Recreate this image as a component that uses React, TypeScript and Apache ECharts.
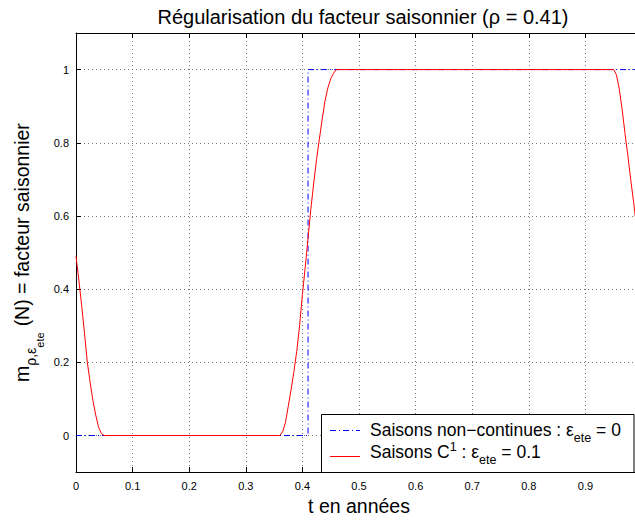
import React, { useEffect, useRef } from 'react';
import * as echarts from 'echarts';

// ---- data ----
const titleText = 'Régularisation du facteur saisonnier (ρ = 0.41)';
const xAxisTitle = 't en années';
const yTickValues = [0, 0.2, 0.4, 0.6, 0.8, 1];

// step function (non-continuous seasons, eps_ete = 0)
const stepT = [0, 0.41, 0.41, 1];
const stepM = [0, 0, 1, 1];

// C1 seasons (eps_ete = 0.1)
const smoothT = [0, 0.005, 0.01, 0.015, 0.02, 0.025, 0.03, 0.035, 0.04, 0.045, 0.05,
  0.36, 0.365, 0.37, 0.375, 0.38, 0.385, 0.39, 0.395, 0.4, 0.405, 0.41, 0.415, 0.42, 0.425,
  0.43, 0.435, 0.44, 0.445, 0.45, 0.455, 0.46,
  0.95, 0.955, 0.96, 0.965, 0.97, 0.975, 0.98, 0.985, 0.99, 0.995, 1.0];
const smoothM = [0.49, 0.425, 0.355, 0.28, 0.2, 0.145, 0.095, 0.055, 0.022, 0.005, 0,
  0, 0.01, 0.035, 0.08, 0.125, 0.175, 0.23, 0.3, 0.385, 0.46, 0.54, 0.62, 0.69, 0.755,
  0.81, 0.865, 0.915, 0.95, 0.975, 0.99, 1,
  1, 0.985, 0.945, 0.89, 0.825, 0.765, 0.7, 0.64, 0.575, 0.53, 0.49];

const seriesNames = ['Saisons non−continues : ε_ete = 0', 'Saisons C¹ : ε_ete = 0.1'];

// text pieces (main / sub / sup) of the legend entries and the y label
const legend1Parts = ['Saisons non−continues : ε', 'ete', '= 0'];
const legend2Parts = ['Saisons C', '1', ': ε', 'ete', '= 0.1'];
const yLabelParts = ['m', 'ρ,ε', 'ete', '(N) = facteur saisonnier'];

const FONT_NAME = 'Liberation Sans';
const FONT = '"Liberation Sans", Arial, Helvetica, sans-serif';
const BLUE = '#0000ff';
const RED = '#ff0000';
const DASHDOT = [6, 3, 1, 3];

type Seg = { text: string; size: number; dy: number; pre?: number };

let measureCtx: CanvasRenderingContext2D | null = null;
function textWidth(s: string, size: number): number {
  if (!measureCtx) measureCtx = document.createElement('canvas').getContext('2d');
  if (!measureCtx) return s.length * size * 0.5;
  measureCtx.font = `${size}px "${FONT_NAME}"`;
  return measureCtx.measureText(s).width;
}

// lay text pieces out on one baseline; returns graphic text elements
function row(segs: Seg[], x0: number, baseY: number, z: number): any[] {
  let x = x0;
  return segs.map((sg) => {
    x += sg.pre || 0;
    const el = {
      type: 'text',
      x,
      y: baseY + sg.dy - 0.35 * sg.size,
      z,
      style: {
        text: sg.text,
        fontFamily: FONT,
        fontSize: sg.size,
        fill: '#000',
        align: 'left',
        verticalAlign: 'middle',
      },
    };
    x += textWidth(sg.text, sg.size);
    return el;
  });
}

export default function App() {
  const ref = useRef<HTMLDivElement>(null);

  useEffect(() => {
    document.body.style.margin = '0';
    if (!ref.current) return;
    const chart = echarts.init(ref.current, undefined, { renderer: 'svg' });

    const stepData = stepT.map((t, i) => [t, stepM[i]]);
    const smoothData = smoothT.map((t, i) => [t, smoothM[i]]);

    const gridLine = { show: true, lineStyle: { color: '#777', type: [1, 3], width: 1 } };

    const LS = 17.5; // legend main size
    const LSS = 12.5; // legend sub size
    const legend1 = row([
      { text: legend1Parts[0], size: LS, dy: 0 },
      { text: legend1Parts[1], size: LSS, dy: 6.5 },
      { text: legend1Parts[2], size: LS, dy: 0, pre: textWidth(' ', LS) },
    ], 370, 436, 101);
    const legend2 = row([
      { text: legend2Parts[0], size: LS, dy: 0 },
      { text: legend2Parts[1], size: LSS, dy: -7 },
      { text: legend2Parts[2], size: LS, dy: 0, pre: textWidth(' ', LS) },
      { text: legend2Parts[3], size: LSS, dy: 6.5 },
      { text: legend2Parts[4], size: LS, dy: 0, pre: textWidth(' ', LS) },
    ], 370, 458, 101);

    const YS = 19.5;
    const yLabel = row([
      { text: yLabelParts[0], size: YS, dy: 0 },
      { text: yLabelParts[1], size: 14, dy: 7 },
      { text: yLabelParts[2], size: 11, dy: 15 },
      { text: yLabelParts[3], size: YS, dy: 0, pre: 6 },
    ], 0, 29, 100);

    const option: any = {
      animation: false,
      backgroundColor: '#ffffff',
      title: {
        text: titleText,
        left: 358,
        textAlign: 'center',
        top: 2,
        textStyle: { fontFamily: FONT, fontSize: 20, fontWeight: 'normal', color: '#000' },
      },
      grid: { left: 76, right: 3, top: 33, bottom: 43, containLabel: false },
      xAxis: [
        {
          type: 'value',
          position: 'bottom',
          min: 0,
          max: 1,
          interval: 0.1,
          name: xAxisTitle,
          nameLocation: 'middle',
          nameGap: 22,
          nameTextStyle: { fontFamily: FONT, fontSize: 19.5, color: '#000' },
          axisLine: { show: true, onZero: false, lineStyle: { color: '#000', width: 1 } },
          axisTick: { show: true, inside: true, length: 5, lineStyle: { color: '#000' } },
          axisLabel: { show: true, showMaxLabel: false, margin: 8, fontFamily: FONT, fontSize: 11, color: '#000' },
          splitLine: gridLine,
        },
        {
          type: 'value',
          position: 'top',
          min: 0,
          max: 1,
          interval: 0.1,
          axisLine: { show: true, onZero: false, lineStyle: { color: '#000', width: 1 } },
          axisTick: { show: true, inside: true, length: 5, lineStyle: { color: '#000' } },
          axisLabel: { show: false },
          splitLine: { show: false },
        },
      ],
      yAxis: {
        type: 'value',
        min: -0.1,
        max: 1.1,
        axisLine: { show: true, onZero: false, lineStyle: { color: '#000', width: 1 } },
        axisTick: { show: true, inside: true, length: 5, customValues: yTickValues, lineStyle: { color: '#000' } },
        axisLabel: { show: true, customValues: yTickValues, margin: 7, fontFamily: FONT, fontSize: 11, color: '#000' },
        splitLine: gridLine,
      },
      series: [
        {
          name: seriesNames[0],
          type: 'line',
          data: stepData,
          showSymbol: false,
          symbol: 'none',
          lineStyle: { color: BLUE, width: 1, type: DASHDOT },
          z: 3,
        },
        {
          name: seriesNames[1],
          type: 'line',
          data: smoothData,
          showSymbol: false,
          symbol: 'none',
          lineStyle: { color: RED, width: 1 },
          z: 4,
        },
      ],
      graphic: [
        {
          type: 'group',
          x: 0,
          y: 382,
          rotation: Math.PI / 2,
          z: 100,
          children: yLabel,
        },
        {
          type: 'group',
          z: 100,
          children: [
            {
              type: 'rect',
              z: 100,
              shape: { x: 321.5, y: 414.5, width: 312.5, height: 58 },
              style: { fill: '#fff', stroke: '#000', lineWidth: 1 },
            },
            {
              type: 'line',
              z: 101,
              shape: { x1: 330, y1: 430.5, x2: 360, y2: 430.5 },
              style: { stroke: BLUE, lineWidth: 1, lineDash: DASHDOT },
            },
            {
              type: 'line',
              z: 101,
              shape: { x1: 330, y1: 456.5, x2: 360, y2: 456.5 },
              style: { stroke: RED, lineWidth: 1 },
            },
            ...legend1,
            ...legend2,
          ],
        },
      ],
    };

    chart.setOption(option);
    return () => chart.dispose();
  }, []);

  return (
    <div style={{ width: 635, height: 521, overflow: 'hidden', position: 'relative' }}>
      <div ref={ref} style={{ width: 645, height: 521 }} />
    </div>
  );
}
